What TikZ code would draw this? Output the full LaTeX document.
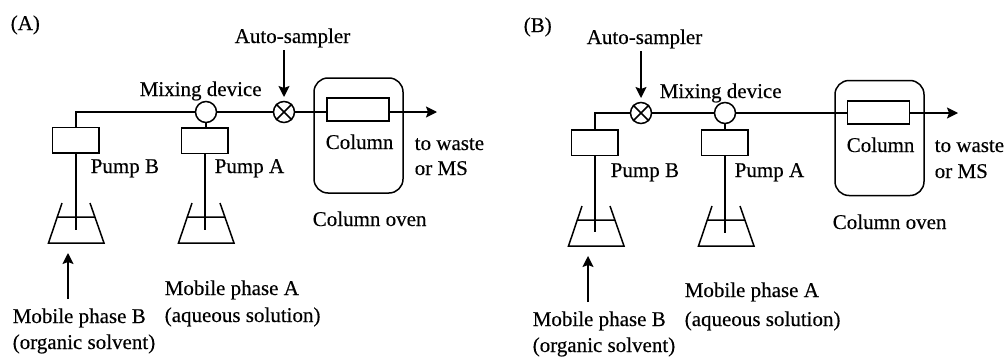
\documentclass[tikz,border=0pt]{standalone}
\usepackage{fontspec}
\setmainfont[FakeBold=0.35]{Liberation Serif}
\usetikzlibrary{arrows.meta}
\tikzset{
  x=1pt,y=-1pt,
  lbl/.style={inner sep=0pt,anchor=base west,font=\fontsize{21}{21}\selectfont,text=black},
  pumpbox/.style={draw,minimum width=46.5pt,minimum height=25.5pt,inner sep=0pt},
  columnbox/.style={draw,minimum width=62pt,minimum height=23pt,inner sep=0pt},
  ovenbox/.style={draw,rounded corners=14pt,minimum width=89pt,minimum height=115pt,inner sep=0pt},
  mixer/.style={draw,circle,minimum size=21pt,inner sep=0pt},
  sampler/.style={draw,circle,minimum size=21pt,inner sep=0pt},
  arrowline/.style={-{Stealth[length=11pt,width=11pt,inset=2pt]}}
}
\begin{document}
\begin{tikzpicture}[line width=1.5pt]
\useasboundingbox (0,0) rectangle (1006,356);
% ---------- Panel A ----------
\node[lbl] (la) at (10,30) {(A)};
\node[lbl] (asa) at (234,43) {Auto-sampler};
\node[lbl] (mda) at (139,96) {Mixing device};
\node[ovenbox] (ova) at (358.5,135.5) {};
\node[columnbox] (cola) at (358,109.5) {};
\node[mixer] (mixa) at (206,112) {};
\node[sampler] (sama) at (284,112) {};
\draw (sama.45) -- (sama.225) (sama.135) -- (sama.315);
\node[pumpbox] (pba) at (75.5,140) {};
\node[pumpbox] (paa) at (204.5,140.5) {};
\node[lbl] at (325,149) {Column};
\node[lbl] at (414,150) {to waste};
\node[lbl] at (414,175) {or MS};
\node[lbl] at (90,173) {Pump B};
\node[lbl] at (214,173) {Pump A};
\node[lbl] at (312,226) {Column oven};
\node[lbl] (mpaa) at (164,295) {Mobile phase A};
\node[lbl] at (164,322) {(aqueous solution)};
\node[lbl] (mpba) at (12,323) {Mobile phase B};
\node[lbl] at (12,349) {(organic solvent)};
\coordinate (enda) at (437,112);
\coordinate (cora) at (76,112);
\coordinate (tba) at (76,230);
\coordinate (taa) at (205,230);
\coordinate (arrb) at (68,253);
\coordinate (arrs) at (68,299);
\coordinate (sa1) at (284,50);
\coordinate (sa2) at (284,97);
\draw (pba.north -| cora) -- (cora) -- (mixa.west);
\draw (mixa.east) -- (sama.west);
\draw (sama.east) -- (sama.east -| cola.west);
\draw[arrowline] (cola.east |- enda) -- (enda);
\draw (mixa.south) -- (mixa.south |- paa.north);
\draw (pba.south -| tba) -- (tba);
\draw (paa.south -| taa) -- (taa);
\draw[arrowline] (sa1) -- (sa2);
\draw[arrowline] (arrs) -- (arrb);
% flasks A
\draw (62,203) -- (48.5,243) -- (104,243) -- (90,203) (57,217) -- (95,217);
\draw (192,203) -- (178.5,243) -- (234,243) -- (220,203) (187,217) -- (225,217);
% ---------- Panel B ----------
\node[lbl] (lb) at (523,32) {(B)};
\node[lbl] (asb) at (586,44) {Auto-sampler};
\node[lbl] (mdb) at (659,98) {Mixing device};
\node[ovenbox] (ovb) at (879.5,138) {};
\node[columnbox] (colb) at (878.5,112.5) {};
\node[mixer] (mixb) at (725,113) {};
\node[sampler] (samb) at (641,113) {};
\draw (samb.45) -- (samb.225) (samb.135) -- (samb.315);
\node[pumpbox] (pbb) at (594.5,142.5) {};
\node[pumpbox] (pab) at (724.5,142.5) {};
\node[lbl] at (846,152) {Column};
\node[lbl] at (934,152) {to waste};
\node[lbl] at (934,178) {or MS};
\node[lbl] at (610,177) {Pump B};
\node[lbl] at (734,177) {Pump A};
\node[lbl] at (832,229) {Column oven};
\node[lbl] (mpab) at (684,297) {Mobile phase A};
\node[lbl] at (684,326) {(aqueous solution)};
\node[lbl] (mpbb) at (532,326) {Mobile phase B};
\node[lbl] at (532,352) {(organic solvent)};
\coordinate (endb) at (958,113);
\coordinate (corb) at (595,113);
\coordinate (tbb) at (595,232);
\coordinate (tab) at (725,233);
\coordinate (arrbb) at (588,256);
\coordinate (arrsb) at (588,302);
\coordinate (sb1) at (641,51);
\coordinate (sb2) at (641,98);
\draw (pbb.north -| corb) -- (corb) -- (samb.west);
\draw (samb.east) -- (mixb.west);
\draw (mixb.east) -- (mixb.east -| colb.west);
\draw[arrowline] (colb.east |- endb) -- (endb);
\draw (mixb.south) -- (mixb.south |- pab.north);
\draw (pbb.south -| tbb) -- (tbb);
\draw (pab.south -| tab) -- (tab);
\draw[arrowline] (sb1) -- (sb2);
\draw[arrowline] (arrsb) -- (arrbb);
% flasks B
\draw (582,206) -- (568.5,246) -- (624,246) -- (610,206) (577,220) -- (615,220);
\draw (712,206) -- (698.5,246) -- (754,246) -- (740,206) (707,220) -- (745,220);
\end{tikzpicture}
\end{document}
